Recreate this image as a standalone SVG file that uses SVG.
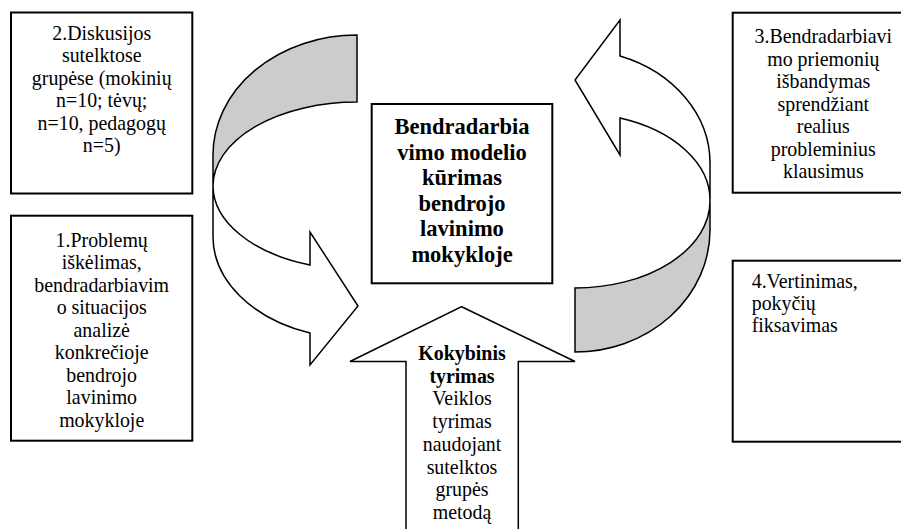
<svg xmlns="http://www.w3.org/2000/svg" width="901" height="529" viewBox="0 0 901 529">
<style>
.box{fill:#fff;stroke:#000;stroke-width:2}
.shape{stroke:#000;stroke-width:1.5;stroke-linejoin:miter}
.white{fill:#fff}
.gray{fill:#cccccc}
text{font-family:"Liberation Serif","Times New Roman",serif;font-size:19.9px;fill:#000}
.c{text-anchor:middle}
.b{font-weight:bold}
.big{font-size:22.5px;font-weight:bold}
</style>
<rect width="901" height="529" fill="#fff"/>
<g id="connectors">
  <g id="curved-arrow-left">
    <path class="shape gray" d="M357,35 A144,120 0 0 0 213,155 L213,186 A144,84 0 0 1 357,102 Z"/>
    <path class="shape white" d="M213,186 L213,237 A144,102 0 0 0 310,333 L310,365 L358,306 L310,232 L310,265 A144,84 0 0 1 213,186 Z"/>
  </g>
  <g id="curved-arrow-right">
    <path class="shape white" d="M710,163 A135,113.5 0 0 0 620,56 L620,20 L575,80 L620,155 L620,118 A135,87 0 0 1 710,201 Z"/>
    <path class="shape gray" d="M710,201 L710,230 A135,122 0 0 1 575,352 L575,288 A135,87 0 0 0 710,201 Z"/>
  </g>
</g>
<g id="node-2">
  <rect class="box" x="11" y="12.5" width="181.3" height="181"/>
  <text class="c" x="101.7" y="40">2.Diskusijos</text>
  <text class="c" x="101.7" y="62.4">sutelktose</text>
  <text class="c" x="101.7" y="84.8">grupėse (mokinių</text>
  <text class="c" x="101.7" y="107.2">n=10; tėvų;</text>
  <text class="c" x="101.7" y="129.6">n=10, pedagogų</text>
  <text class="c" x="101.7" y="152">n=5)</text>
</g>
<g id="node-1">
  <rect class="box" x="11" y="215.7" width="181.3" height="225"/>
  <text class="c" x="101.7" y="246.7">1.Problemų</text>
  <text class="c" x="101.7" y="269.2">iškėlimas,</text>
  <text class="c" x="101.7" y="291.7">bendradarbiavim</text>
  <text class="c" x="101.7" y="314.2">o situacijos</text>
  <text class="c" x="101.7" y="336.7">analizė</text>
  <text class="c" x="101.7" y="359.2">konkrečioje</text>
  <text class="c" x="101.7" y="381.7">bendrojo</text>
  <text class="c" x="101.7" y="404.2">lavinimo</text>
  <text class="c" x="101.7" y="426.7">mokykloje</text>
</g>
<g id="node-center">
  <rect class="box" x="371.7" y="104" width="180.6" height="179.3"/>
  <text class="c big" x="462" y="134">Bendradarbia</text>
  <text class="c big" x="462" y="159.5">vimo modelio</text>
  <text class="c big" x="462" y="185">kūrimas</text>
  <text class="c big" x="462" y="210.5">bendrojo</text>
  <text class="c big" x="462" y="236">lavinimo</text>
  <text class="c big" x="462" y="261.5">mokykloje</text>
</g>
<g id="node-3">
  <rect class="box" x="732.7" y="12.7" width="181.3" height="180"/>
  <text class="c" x="823.3" y="43.3">3.Bendradarbiavi</text>
  <text class="c" x="823.3" y="65.8">mo priemonių</text>
  <text class="c" x="823.3" y="88.3">išbandymas</text>
  <text class="c" x="823.3" y="110.8">sprendžiant</text>
  <text class="c" x="823.3" y="133.3">realius</text>
  <text class="c" x="823.3" y="155.8">probleminius</text>
  <text class="c" x="823.3" y="178.3">klausimus</text>
</g>
<g id="node-4">
  <rect class="box" x="732.7" y="260.7" width="181.3" height="181"/>
  <text x="751.7" y="288.3">4.Vertinimas,</text>
  <text x="751.7" y="310.3">pokyčių</text>
  <text x="751.7" y="332.3">fiksavimas</text>
</g>
<g id="node-method">
  <polygon class="shape white" points="461.7,306.7 575,361.5 518.3,361.5 518.3,540 406,540 406,361.5 350,361.5"/>
  <text class="c b" x="462" y="360">Kokybinis</text>
  <text class="c b" x="462" y="382.7">tyrimas</text>
  <text class="c" x="462" y="405.4">Veiklos</text>
  <text class="c" x="462" y="428.1">tyrimas</text>
  <text class="c" x="462" y="450.8">naudojant</text>
  <text class="c" x="462" y="473.5">sutelktos</text>
  <text class="c" x="462" y="496.2">grupės</text>
  <text class="c" x="462" y="518.9">metodą</text>
</g>
</svg>
